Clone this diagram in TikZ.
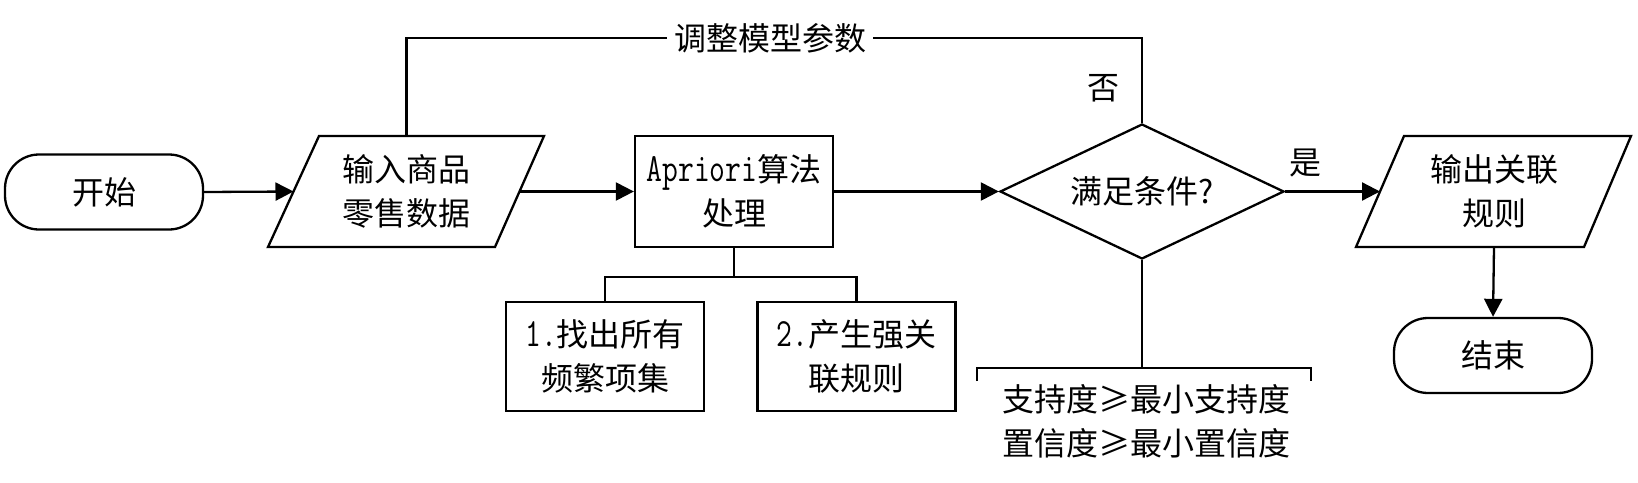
\documentclass[tikz,border=0pt]{standalone}
\usepackage{fontspec}
\usepackage{graphicx}
\newfontfamily\cjk{Noto Sans CJK SC}
\usetikzlibrary{arrows.meta,shapes.geometric}
\newcommand{\mono}[1]{\scalebox{0.96}[1.25]{\ttfamily #1}}
\begin{document}
\begin{tikzpicture}[x=0.5pt,y=-0.5pt,
  line width=1.15pt,
  txt/.style={font=\cjk\fontsize{16}{22}\selectfont, align=center, inner sep=0pt},
  arr/.style={-{Triangle[length=9pt,width=9pt]}},
  termbox/.style={txt, draw, rounded corners=17pt, minimum width=99pt, minimum height=37.5pt},
  procbox/.style={txt, draw, minimum width=99pt, minimum height=55pt},
]
\useasboundingbox (0,0) rectangle (1638,482);

% start
\node[termbox] (start) at (104,192) {开始};

% input parallelogram
\draw (319,136) -- (544,136) -- (495,247) -- (268,247) -- cycle;
\node[txt] (in) at (406.5,191.5) {输入商品\\零售数据};
\coordinate (inW) at (293.5,191.5);
\coordinate (inE) at (519.5,191.5);
\coordinate (inN) at (406.5,136);

% apriori
\node[procbox, minimum height=55.5pt] (apr) at (734,191.5) {\mono{Apriori}算法\\处理};

% sub boxes
\node[procbox, minimum height=54.5pt] (b1) at (605,356.5) {\mono{1.}找出所有\\频繁项集};
\node[procbox, minimum height=54.5pt] (b2) at (856.5,356.5) {\mono{2.}产生强关\\联规则};

% decision
\node[txt, draw, diamond, aspect=2.1, minimum width=142pt, minimum height=67.5pt] (dia) at (1142,191.5) {满足条件?};

% output parallelogram
\draw (1404,136) -- (1631,136) -- (1584,247) -- (1356,247) -- cycle;
\node[txt] (out) at (1494,191.5) {输出关联\\规则};
\coordinate (outW) at (1380,191.5);
\coordinate (outS) at (1494,247);

% end
\node[termbox] (stop) at (1493,355.5) {结束};

% labels
\node[txt, inner xsep=3pt] (adj) at (770,38) {调整模型参数};
\node[txt] (no) at (1103,88) {否};
\node[txt] (yes) at (1305,163) {是};

% connectors
\draw[arr] (start.east) -- (inW);
\draw[arr] (inE) -- (apr.west);
\draw[arr] (apr.east) -- (dia.west);
\draw[arr] (dia.east) -- (outW);
\draw[arr] (outS) -- (stop.north);

\draw (dia.north) |- (adj.east);
\draw (adj.west) -| (inN);

\coordinate (j) at (734,277);
\draw (apr.south) -- (j);
\draw (b1.north) |- (j) -| (b2.north);

% condition bracket
\coordinate (br) at (1142,368);
\draw (dia.south) -- (br);
\draw (br) ++(-165,13) -- ++(0,-13) -- ++(334,0) -- ++(0,13);
\node[txt] (cond) at (1146,421.5) {支持度≥最小支持度\\置信度≥最小置信度};
\end{tikzpicture}
\end{document}
